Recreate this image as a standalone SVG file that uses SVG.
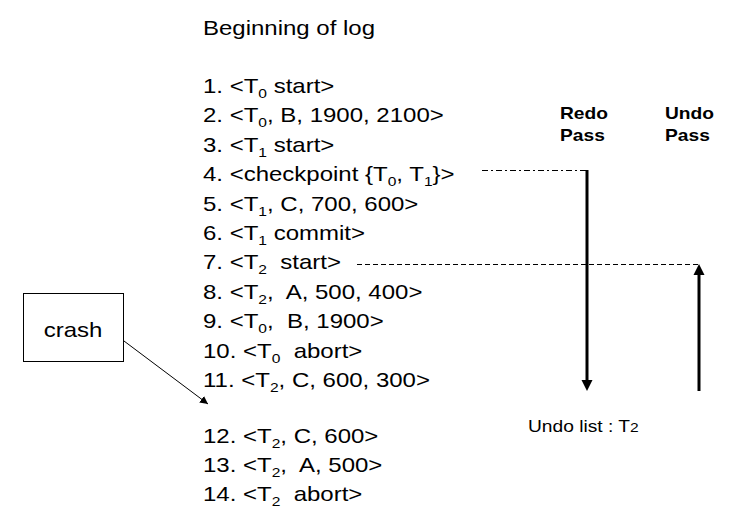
<svg xmlns="http://www.w3.org/2000/svg" width="739" height="523" viewBox="0 0 739 523">
<style>
text{font-family:"Liberation Sans",Arial,sans-serif;fill:#000;white-space:pre}
.log{font-size:20px}
.sub{font-size:13px}
.hd{font-size:16px;font-weight:bold}
.sm{font-size:16px}
.thin{stroke:#000;stroke-width:1;fill:none}
.thick{stroke:#000;stroke-width:3;fill:none}
</style>
<defs>
<marker id="ah" markerWidth="12" markerHeight="12" refX="10" refY="5" orient="auto" markerUnits="userSpaceOnUse">
<path d="M0,0 L10,5 L0,10 Z" fill="#000"/>
</marker>
<marker id="ahs" markerWidth="10" markerHeight="10" refX="8" refY="4" orient="auto" markerUnits="userSpaceOnUse">
<path d="M0,0 L8,4 L0,8 Z" fill="#000"/>
</marker>
</defs>
<g id="log">
<text class="log" transform="translate(203,35) scale(1.2,1)">Beginning of log</text>
<text class="log" transform="translate(203,93) scale(1.2,1)">1. &lt;T<tspan class="sub" dy="5">0</tspan><tspan dy="-5"> start&gt;</tspan></text>
<text class="log" transform="translate(203,122.4) scale(1.2,1)">2. &lt;T<tspan class="sub" dy="5">0</tspan><tspan dy="-5">, B, 1900, 2100&gt;</tspan></text>
<text class="log" transform="translate(203,151.8) scale(1.2,1)">3. &lt;T<tspan class="sub" dy="5">1</tspan><tspan dy="-5"> start&gt;</tspan></text>
<text class="log" transform="translate(203,181.2) scale(1.2,1)">4. &lt;checkpoint {T<tspan class="sub" dy="5">0</tspan><tspan dy="-5">, T</tspan><tspan class="sub" dy="5">1</tspan><tspan dy="-5">}&gt;</tspan></text>
<text class="log" transform="translate(203,210.6) scale(1.2,1)">5. &lt;T<tspan class="sub" dy="5">1</tspan><tspan dy="-5">, C, 700, 600&gt;</tspan></text>
<text class="log" transform="translate(203,240) scale(1.2,1)">6. &lt;T<tspan class="sub" dy="5">1</tspan><tspan dy="-5"> commit&gt;</tspan></text>
<text class="log" transform="translate(203,269.4) scale(1.2,1)">7. &lt;T<tspan class="sub" dy="5">2</tspan><tspan dy="-5">  start&gt;</tspan></text>
<text class="log" transform="translate(203,298.8) scale(1.2,1)">8. &lt;T<tspan class="sub" dy="5">2</tspan><tspan dy="-5">,  A, 500, 400&gt;</tspan></text>
<text class="log" transform="translate(203,328.2) scale(1.2,1)">9. &lt;T<tspan class="sub" dy="5">0</tspan><tspan dy="-5">,  B, 1900&gt;</tspan></text>
<text class="log" transform="translate(203,357.6) scale(1.2,1)">10. &lt;T<tspan class="sub" dy="5">0</tspan><tspan dy="-5">  abort&gt;</tspan></text>
<text class="log" transform="translate(203,387) scale(1.2,1)">11. &lt;T<tspan class="sub" dy="5">2</tspan><tspan dy="-5">, C, 600, 300&gt;</tspan></text>
<text class="log" transform="translate(203,443) scale(1.2,1)">12. &lt;T<tspan class="sub" dy="5">2</tspan><tspan dy="-5">, C, 600&gt;</tspan></text>
<text class="log" transform="translate(203,472) scale(1.2,1)">13. &lt;T<tspan class="sub" dy="5">2</tspan><tspan dy="-5">,  A, 500&gt;</tspan></text>
<text class="log" transform="translate(203,501) scale(1.2,1)">14. &lt;T<tspan class="sub" dy="5">2</tspan><tspan dy="-5">  abort&gt;</tspan></text>
</g>
<g id="crash">
<rect x="23.5" y="293.5" width="100" height="68" fill="#fff" stroke="#000" stroke-width="1"/>
<text class="log" text-anchor="middle" transform="translate(73,337) scale(1.2,1)">crash</text>
</g>
<g id="redo-label">
<text class="hd" transform="translate(560,119) scale(1.2,1)">Redo</text>
<text class="hd" transform="translate(560,141) scale(1.2,1)">Pass</text>
</g>
<g id="undo-label">
<text class="hd" transform="translate(665,119) scale(1.2,1)">Undo</text>
<text class="hd" transform="translate(665,141) scale(1.2,1)">Pass</text>
</g>
<g id="undo-list">
<text class="sm" transform="translate(528,432) scale(1.2,1)">Undo list : T<tspan font-size="13">2</tspan></text>
</g>
<g id="connectors">
<line class="thin" x1="482" y1="170.5" x2="588" y2="170.5" stroke-dasharray="6 3 2 3"/>
<line class="thin" x1="357" y1="264.5" x2="700" y2="264.5" stroke-dasharray="5 3"/>
<line class="thick" x1="587" y1="170" x2="587" y2="380"/>
<path d="M581.5,380 L592.5,380 L587,391 Z" fill="#000"/>
<line class="thick" x1="699" y1="391" x2="699" y2="274"/>
<path d="M693.5,275 L704.5,275 L699,264 Z" fill="#000"/>
<line class="thin" x1="124" y1="341" x2="208" y2="404" marker-end="url(#ahs)"/>
</g>
</svg>
